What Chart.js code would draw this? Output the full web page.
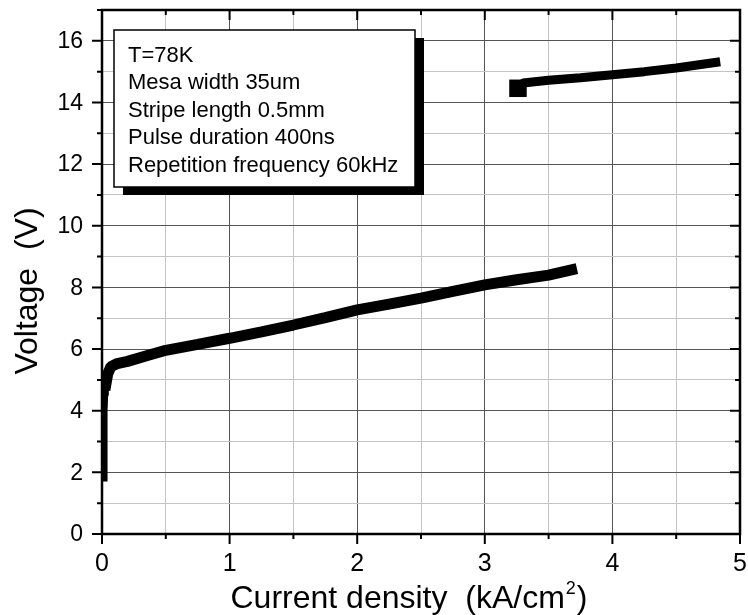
<!DOCTYPE html>
<html>
<head>
<meta charset="utf-8">
<script src="https://cdn.jsdelivr.net/npm/chart.js@4"></script>
<style>
  body { margin: 0; background: #fff; }
  canvas { display: block; }
</style>
</head>
<body>
<canvas id="chart" width="748" height="615"></canvas>
<script>
// lower branch
const lowerJ = [0.02, 0.02, 0.02, 0.02, 0.02, 0.025, 0.03, 0.045, 0.07, 0.12, 0.2, 0.35, 0.5, 0.75, 1.0, 1.25, 1.5, 1.75, 2.0, 2.25, 2.5, 2.75, 3.0, 3.25, 3.5, 3.68];
const lowerV = [1.8, 2.5, 3.0, 3.5, 4.0, 4.5, 4.85, 5.2, 5.43, 5.53, 5.6, 5.78, 5.96, 6.15, 6.35, 6.56, 6.78, 7.02, 7.27, 7.46, 7.65, 7.87, 8.08, 8.25, 8.4, 8.57];
// upper branch
const upperJ = [3.26, 3.30, 3.5, 3.75, 4.0, 4.25, 4.5, 4.81];
const upperV = [14.46, 14.63, 14.72, 14.8, 14.9, 15.0, 15.12, 15.3];

const xTicks = [0, 1, 2, 3, 4, 5];
const yTicks = [0, 2, 4, 6, 8, 10, 12, 14, 16];

const legendLines = [
  "T=78K",
  "Mesa width 35um",
  "Stripe length 0.5mm",
  "Pulse duration 400ns",
  "Repetition frequency 60kHz"
];

const FONT = "'Liberation Sans', Arial, sans-serif";

function toPoints(xs, ys) {
  return xs.map((x, i) => ({ x: x, y: ys[i] }));
}

function gridColor(c, step) {
  return (Math.abs(c.tick.value % step) < 1e-6) ? "#555" : "#c4c4c4";
}

// frame, inward/outward ticks, tick labels, titles and the note box
const decorations = {
  id: "decorations",
  afterDatasetsDraw(chart) {
    const ctx = chart.ctx;
    // note box with shadow
    ctx.save();
    ctx.fillStyle = "#000";
    ctx.fillRect(123, 38, 301, 157);
    ctx.fillStyle = "#fff";
    ctx.fillRect(114, 30, 301, 157);
    ctx.strokeStyle = "#000";
    ctx.lineWidth = 1.5;
    ctx.strokeRect(114, 30, 301, 157);
    ctx.fillStyle = "#000";
    ctx.font = "22px " + FONT;
    ctx.textBaseline = "alphabetic";
    legendLines.forEach((t, i) => ctx.fillText(t, 128, 62 + i * 27.4));
    ctx.restore();
  },
  afterDraw(chart) {
    const ctx = chart.ctx;
    const a = chart.chartArea;
    const xs = chart.scales.x, ys = chart.scales.y;
    ctx.save();
    ctx.strokeStyle = "#000";
    ctx.lineWidth = 2;
    ctx.beginPath();
    for (let v = 0; v <= 5.001; v += 0.5) {
      const px = xs.getPixelForValue(v);
      const major = Math.abs(v % 1) < 1e-6;
      const len = major ? 10 : 5;
      ctx.moveTo(px, a.bottom); ctx.lineTo(px, a.bottom + len);
      ctx.moveTo(px, a.top); ctx.lineTo(px, a.top + len);
    }
    for (let v = 0; v <= 17; v += 1) {
      const py = ys.getPixelForValue(v);
      const len = v % 2 === 0 ? 10 : 5;
      ctx.moveTo(a.left, py); ctx.lineTo(a.left - len, py);
      ctx.moveTo(a.right, py); ctx.lineTo(a.right - len, py);
    }
    ctx.stroke();
    ctx.lineWidth = 2.5;
    ctx.strokeRect(a.left, a.top, a.right - a.left, a.bottom - a.top);

    // tick labels
    ctx.fillStyle = "#000";
    ctx.font = "25px " + FONT;
    ctx.textAlign = "center";
    ctx.textBaseline = "middle";
    xTicks.forEach(v => ctx.fillText(String(v), xs.getPixelForValue(v), a.bottom + 30));
    ctx.font = "23px " + FONT;
    ctx.textAlign = "right";
    yTicks.forEach(v => ctx.fillText(String(v), a.left - 19, ys.getPixelForValue(v) + 1));

    // axis titles
    ctx.font = "32px " + FONT;
    ctx.save();
    ctx.translate(28, 291);
    ctx.rotate(-Math.PI / 2);
    ctx.textAlign = "center";
    ctx.textBaseline = "middle";
    ctx.fillText("Voltage  (V)", 0, 0);
    ctx.restore();

    const main = "Current density  (kA/cm";
    const sup = "2";
    const close = ")";
    ctx.textAlign = "left";
    ctx.font = "32px " + FONT;
    const w1 = ctx.measureText(main).width;
    const w3 = ctx.measureText(close).width;
    ctx.font = "18px " + FONT;
    const w2 = ctx.measureText(sup).width;
    let x0 = 408 - (w1 + w2 + w3) / 2;
    const base = 608;
    ctx.textBaseline = "alphabetic";
    ctx.font = "32px " + FONT;
    ctx.fillText(main, x0, base);
    ctx.font = "18px " + FONT;
    ctx.fillText(sup, x0 + w1 + 1, base - 14);
    ctx.font = "32px " + FONT;
    ctx.fillText(close, x0 + w1 + w2 + 2, base);
    ctx.restore();
  }
};

new Chart(document.getElementById("chart"), {
  type: "scatter",
  data: {
    datasets: [
      {
        data: toPoints(lowerJ, lowerV),
        showLine: true,
        borderColor: "#000",
        backgroundColor: "#000",
        borderWidth: 11,
        borderCapStyle: "square",
        borderJoinStyle: "bevel",
        pointRadius: 0,
        segment: {
          borderWidth: c => c.p0DataIndex < 6 ? 6 : 11
        }
      },
      {
        data: toPoints(upperJ, upperV),
        showLine: true,
        borderColor: "#000",
        backgroundColor: "#000",
        borderWidth: 9,
        borderCapStyle: "square",
        borderJoinStyle: "bevel",
        pointStyle: "rect",
        pointRadius: upperJ.map((_, i) => i === 0 ? 6 : 0)
      }
    ]
  },
  options: {
    responsive: false,
    animation: false,
    layout: { autoPadding: false, padding: { top: 10, right: 8, left: 0, bottom: 0 } },
    plugins: {
      legend: { display: false },
      tooltip: { enabled: false }
    },
    scales: {
      x: {
        type: "linear",
        min: 0,
        max: 5,
        afterFit: s => { s.height = 81; },
        afterBuildTicks: s => {
          s.ticks = [];
          for (let v = 0; v <= 10; v++) s.ticks.push({ value: v * 0.5 });
        },
        ticks: { display: false },
        grid: { color: c => gridColor(c, 1), lineWidth: 1, drawTicks: false },
        border: { display: false }
      },
      y: {
        type: "linear",
        min: 0,
        max: 17,
        afterFit: s => { s.width = 102; },
        afterBuildTicks: s => {
          s.ticks = [];
          for (let v = 0; v <= 17; v++) s.ticks.push({ value: v });
        },
        ticks: { display: false },
        grid: { color: c => gridColor(c, 2), lineWidth: 1, drawTicks: false },
        border: { display: false }
      }
    }
  },
  plugins: [decorations]
});
</script>
</body>
</html>
